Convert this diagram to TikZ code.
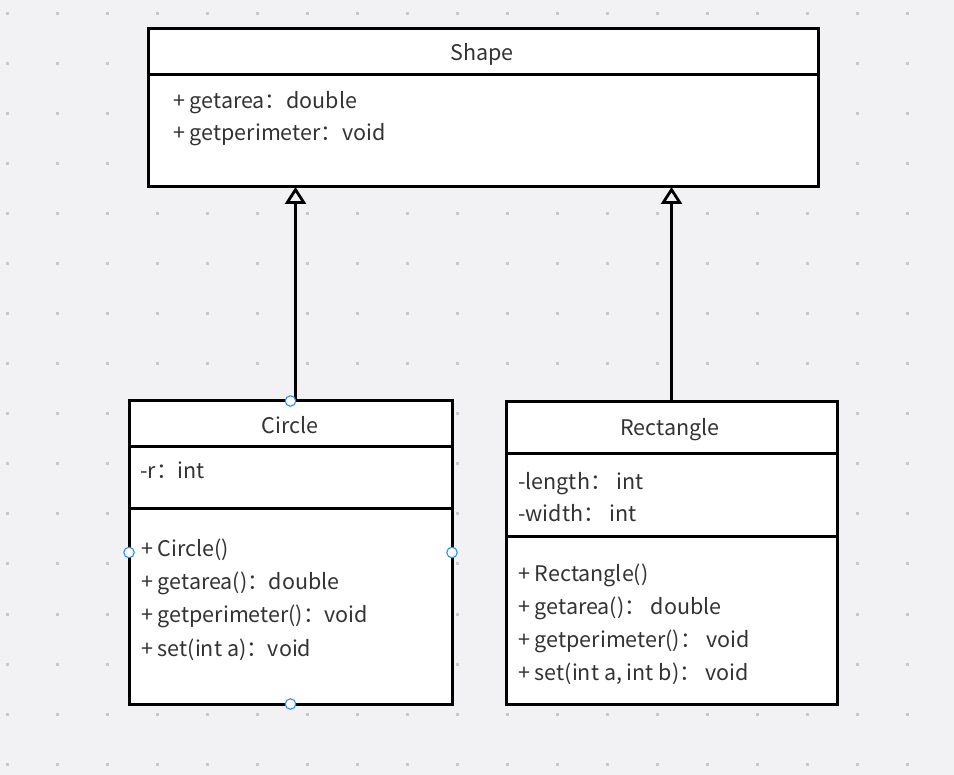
\documentclass[tikz,border=0pt]{standalone}
\usepackage{fontspec}
\setmainfont{Noto Sans CJK SC}
\usetikzlibrary{arrows.meta}
\definecolor{bg}{HTML}{F2F2F4}
\definecolor{griddot}{HTML}{C8C8CC}
\definecolor{handle}{HTML}{2B8CFF}
\definecolor{txt}{HTML}{333333}
\begin{document}
\begin{tikzpicture}[x=1pt,y=-1pt,
  classbox/.style={draw=black, fill=white, line width=3pt, inner sep=0pt, outer sep=0pt, anchor=north west},
  divider/.style={line width=3pt},
  label/.style={font=\fontsize{21.5pt}{26pt}\selectfont, text=txt, inner sep=0pt, anchor=base west},
  title/.style={font=\fontsize{21.5pt}{26pt}\selectfont, text=txt, inner sep=0pt, anchor=base},
  inh/.style={line width=3pt, -{Triangle[open, length=17pt, width=21pt, line width=2.8pt]}},
  hdl/.style={circle, draw=handle, fill=white, line width=1.1pt, minimum size=10.5pt, inner sep=0pt}]
\fill[bg] (0,0) rectangle (954,775);
\useasboundingbox (0,0) rectangle (954,775);
\foreach \i in {0,...,19}{\foreach \j in {0,...,15}{
  \fill[griddot] (5.5+50*\i,12.5+50*\j) rectangle ++(3,3);}}
% Shape
\node[classbox, minimum width=670pt, minimum height=158pt] (shape) at (148,29) {};
\coordinate (sd1) at (148,75);
\draw[divider] (sd1) -- (sd1 -| shape.east);
\node[title] (shapet) at (482,61) {Shape};
\node[label] (s1) at (173,109) {+ getarea：double};
\node[label] (s2) at (173,141) {+ getperimeter：void};
% Circle
\node[classbox, minimum width=323pt, minimum height=303pt] (circ) at (129,401) {};
\coordinate (cd1) at (129,447);
\coordinate (cd2) at (129,509);
\draw[divider] (cd1) -- (cd1 -| circ.east);
\draw[divider] (cd2) -- (cd2 -| circ.east);
\node[title] (ct) at (290,434) {Circle};
\node[label] (c1) at (140,479) {-r：int};
\node[label] (c2) at (141,557) {+ Circle()};
\node[label] (c3) at (141,590) {+ getarea()：double};
\node[label] (c4) at (141,623) {+ getperimeter()：void};
\node[label] (c5) at (141,656) {+ set(int a)：void};
% Rectangle
\node[classbox, minimum width=331pt, minimum height=302pt] (rect) at (506,402) {};
\coordinate (rd1) at (506,454);
\coordinate (rd2) at (506,537);
\draw[divider] (rd1) -- (rd1 -| rect.east);
\draw[divider] (rd2) -- (rd2 -| rect.east);
\node[title] (rt) at (670,436) {Rectangle};
\node[label] (r1) at (518,490) {-length：\ int};
\node[label] (r2) at (518,522) {-width：\ int};
\node[label] (r3) at (518,582) {+ Rectangle()};
\node[label] (r4) at (518,615) {+ getarea()：\ double};
\node[label] (r5) at (518,647) {+ getperimeter()：\ void};
\node[label] (r6) at (518,680) {+ set(int a, int b)：\ void};
% inheritance
\draw[inh] ([xshift=5pt]circ.north) -- ([xshift=5pt]circ.north |- shape.south);
\draw[inh] (rect.north) -- (rect.north |- shape.south);
% selection handles
\node[hdl] (h1) at (circ.north) {};
\node[hdl] (h2) at (circ.south) {};
\node[hdl] (h3) at (circ.west) {};
\node[hdl] (h4) at (circ.east) {};
\end{tikzpicture}
\end{document}
